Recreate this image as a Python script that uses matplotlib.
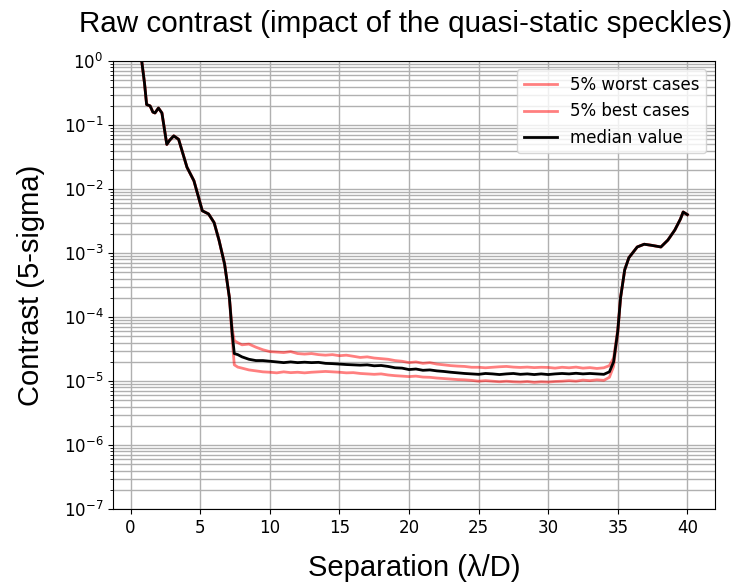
from matplotlib import pyplot as plt

# separation in lambda/D
sep = [0.7, 0.8, 1.0, 1.15, 1.4, 1.6, 1.75, 2.0, 2.25, 2.6, 2.8, 3.1, 3.45, 4.05, 4.55,
       5.15, 5.6, 6.0, 6.35, 6.75, 7.1, 7.3, 7.45,
       7.7, 8.0, 8.5, 9.0, 9.5, 10.0, 10.5, 11.0, 11.5, 12.0, 12.5, 13.0, 13.5, 14.0,
       14.5, 15.0, 15.5, 16.0, 16.5, 17.0, 17.5, 18.0, 18.5, 19.0, 19.5, 20.0, 20.5,
       21.0, 21.5, 22.0, 22.5, 23.0, 23.5, 24.0, 24.5, 25.0, 25.5, 26.0, 26.5, 27.0,
       27.5, 28.0, 28.5, 29.0, 29.5, 30.0, 30.5, 31.0, 31.5, 32.0, 32.5, 33.0, 33.5,
       34.0, 34.4, 34.7, 35.0, 35.2, 35.5, 35.8, 36.4, 36.9, 37.4, 38.1, 38.6, 39.1,
       39.5, 39.7, 40.0]

median = [1.6, 1.0, 0.45, 0.21, 0.20, 0.16, 0.155, 0.185, 0.155, 0.05, 0.058, 0.068, 0.06,
          0.022, 0.0135, 0.0046, 0.0041, 0.003, 0.0016, 6.8e-4, 2.0e-4, 5.5e-5, 2.7e-5,
          2.6e-5, 2.4e-5, 2.2e-5, 2.1e-5, 2.1e-5, 2.05e-5, 2.0e-5, 1.95e-5, 2.0e-5, 1.95e-5,
          1.98e-5, 1.95e-5, 1.97e-5, 1.9e-5, 1.88e-5, 1.85e-5, 1.82e-5, 1.8e-5, 1.78e-5,
          1.8e-5, 1.74e-5, 1.76e-5, 1.7e-5, 1.62e-5, 1.6e-5, 1.52e-5, 1.55e-5, 1.48e-5,
          1.5e-5, 1.45e-5, 1.42e-5, 1.38e-5, 1.35e-5, 1.32e-5, 1.3e-5, 1.28e-5, 1.32e-5,
          1.3e-5, 1.27e-5, 1.3e-5, 1.32e-5, 1.28e-5, 1.3e-5, 1.27e-5, 1.3e-5, 1.27e-5,
          1.3e-5, 1.32e-5, 1.3e-5, 1.33e-5, 1.3e-5, 1.32e-5, 1.3e-5, 1.28e-5, 1.4e-5,
          2.0e-5, 6.0e-5, 2.0e-4, 5.5e-4, 8.5e-4, 1.25e-3, 1.38e-3, 1.33e-3, 1.25e-3,
          1.6e-3, 2.3e-3, 3.4e-3, 4.4e-3, 4.0e-3]

worst = [1.6, 1.0, 0.45, 0.21, 0.20, 0.16, 0.155, 0.185, 0.155, 0.05, 0.058, 0.068, 0.06,
         0.022, 0.0135, 0.0046, 0.0041, 0.003, 0.0016, 6.8e-4, 2.0e-4, 6.5e-5, 4.3e-5,
         4.0e-5, 3.7e-5, 3.8e-5, 3.4e-5, 3.1e-5, 2.9e-5, 2.85e-5, 2.8e-5, 2.9e-5, 2.7e-5,
         2.65e-5, 2.7e-5, 2.6e-5, 2.55e-5, 2.6e-5, 2.5e-5, 2.55e-5, 2.45e-5, 2.35e-5,
         2.4e-5, 2.3e-5, 2.25e-5, 2.2e-5, 2.1e-5, 2.05e-5, 1.95e-5, 2.0e-5, 1.9e-5,
         1.95e-5, 1.85e-5, 1.8e-5, 1.75e-5, 1.72e-5, 1.7e-5, 1.65e-5, 1.65e-5, 1.62e-5,
         1.65e-5, 1.68e-5, 1.7e-5, 1.66e-5, 1.64e-5, 1.66e-5, 1.63e-5, 1.65e-5, 1.64e-5,
         1.6e-5, 1.65e-5, 1.62e-5, 1.66e-5, 1.6e-5, 1.63e-5, 1.58e-5, 1.62e-5, 1.75e-5,
         2.3e-5, 6.5e-5, 2.0e-4, 5.5e-4, 8.5e-4, 1.25e-3, 1.38e-3, 1.33e-3, 1.25e-3,
         1.6e-3, 2.3e-3, 3.4e-3, 4.4e-3, 4.0e-3]

best = [1.6, 1.0, 0.45, 0.21, 0.20, 0.16, 0.155, 0.185, 0.155, 0.05, 0.058, 0.068, 0.06,
        0.022, 0.0135, 0.0046, 0.0041, 0.003, 0.0016, 6.8e-4, 2.0e-4, 4.5e-5, 1.8e-5,
        1.66e-5, 1.6e-5, 1.5e-5, 1.45e-5, 1.4e-5, 1.38e-5, 1.35e-5, 1.4e-5, 1.36e-5,
        1.38e-5, 1.35e-5, 1.38e-5, 1.4e-5, 1.42e-5, 1.4e-5, 1.38e-5, 1.35e-5, 1.36e-5,
        1.32e-5, 1.3e-5, 1.28e-5, 1.3e-5, 1.25e-5, 1.22e-5, 1.2e-5, 1.18e-5, 1.2e-5,
        1.16e-5, 1.15e-5, 1.12e-5, 1.1e-5, 1.08e-5, 1.06e-5, 1.05e-5, 1.03e-5, 1.0e-5,
        1.02e-5, 1.0e-5, 0.98e-5, 1.0e-5, 0.98e-5, 0.97e-5, 0.99e-5, 0.96e-5, 0.98e-5,
        0.97e-5, 0.99e-5, 1.0e-5, 1.02e-5, 1.0e-5, 1.04e-5, 1.02e-5, 1.05e-5, 1.03e-5,
        1.15e-5, 1.7e-5, 5.5e-5, 2.0e-4, 5.5e-4, 8.5e-4, 1.25e-3, 1.38e-3, 1.33e-3,
        1.25e-3, 1.6e-3, 2.3e-3, 3.4e-3, 4.4e-3, 4.0e-3]

fig = plt.figure(figsize=(7.41, 5.88), dpi=100)
ax = fig.add_axes([0.1525, 0.134, 0.812, 0.762])

ax.semilogy(sep, worst, color='red', alpha=0.5, lw=2, label='5% worst cases')
ax.semilogy(sep, best, color='red', alpha=0.5, lw=2, label='5% best cases')
ax.semilogy(sep, median, color='black', lw=2, label='median value')

ax.set_ylim(1e-7, 1)
ax.set_xticks(range(0, 41, 5))
ax.grid(True, which='major', color='#b0b0b0', lw=1)
ax.grid(True, which='minor', axis='y', color='#b0b0b0', lw=1)
ax.tick_params(labelsize=12)

ax.set_title('Raw contrast (impact of the quasi-static speckles)', fontsize=21.3,
             family='Liberation Sans', pad=21, x=0.486)
ax.set_xlabel('Separation (λ/D)', fontsize=21, family='Liberation Sans', labelpad=12)
ax.set_ylabel('Contrast (5-sigma)', fontsize=21, family='Liberation Sans', labelpad=13)
ax.legend(loc='upper right', fontsize=12)

plt.savefig('out.png', dpi=100)
plt.close()
